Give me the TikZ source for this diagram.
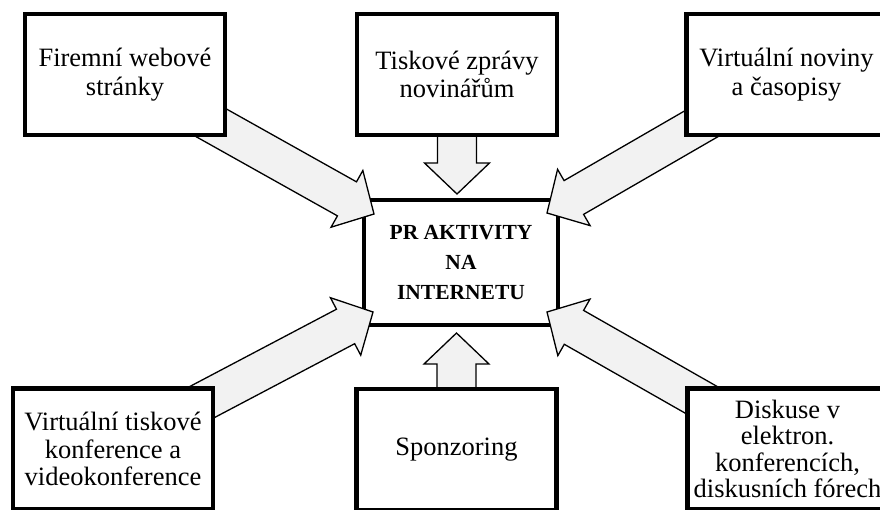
\documentclass[tikz,border=0pt]{standalone}
\usepackage{fontspec}
\setmainfont{Liberation Serif}
\usetikzlibrary{calc}
\pgfdeclarelayer{bottomlayer}
\pgfdeclarelayer{midlayer}
\pgfsetlayers{bottomlayer,midlayer,main}
\definecolor{arrowfill}{HTML}{F2F2F2}
\tikzset{
  outerbox/.style={draw, line width=4.5pt, fill=white, minimum width=200pt,
    minimum height=121pt, inner sep=0pt, align=center},
  txtA/.style={font=\fontsize{26.5}{28.5}\selectfont},
  txtB/.style={font=\fontsize{26.5}{27.5}\selectfont},
  txtC/.style={font=\fontsize{26.5}{26.5}\selectfont},
  centerbox/.style={draw, line width=4.5pt, fill=white, minimum width=194pt,
    minimum height=125pt, inner sep=0pt, align=center,
    font=\bfseries\fontsize{21.5}{30}\selectfont},
  blockarrowstyle/.style={draw, line width=1.3pt, fill=arrowfill, line join=miter},
}
% #1 tail (node centre), #2 tip
\newcommand{\bigarrow}[2]{%
  \coordinate (ba-b) at ($(#2)!31pt!(#1)$);
  \draw[blockarrowstyle] (#2)
    -- ($(ba-b)!32.5pt!90:(#1)$)
    -- ($(ba-b)!19.5pt!90:(#1)$)
    -- ($(#1)!19.5pt!-90:(#2)$)
    -- ($(#1)!19.5pt!90:(#2)$)
    -- ($(ba-b)!19.5pt!-90:(#1)$)
    -- ($(ba-b)!32.5pt!-90:(#1)$)
    -- cycle;
}
\begin{document}
\begin{tikzpicture}[x=1pt,y=-1pt]
\useasboundingbox (0,0) rectangle (880,509);
% outer boxes
\node[outerbox,txtA] (tl) at (125,74.5) {Firemní webové\\stránky};
\node[outerbox,txtA] (tm) at (457,74.5) {Tiskové zprávy\\novinářům};
\node[outerbox,txtA] (tr) at (786.5,74.5) {Virtuální noviny\\a časopisy};
\node[outerbox,txtB] (bl) at (113,449) {Virtuální tiskové\\konference a\\videokonference};
\node[outerbox,txtA] (bm) at (456.5,449.5) {Sponzoring};
\node[outerbox,txtC] (br) at (787.5,449) {Diskuse v\\elektron.\\konferencích,\\diskusních fórech};
% centre box
\begin{pgfonlayer}{bottomlayer}
\node[centerbox] (c) at (461,262.5) {PR AKTIVITY\\NA\\INTERNETU};
\end{pgfonlayer}
% arrow tips
\coordinate (tipTL) at (374,214);
\coordinate (tipTM) at (457,194);
\coordinate (tipTR) at (547,213);
\coordinate (tipBL) at (373,312);
\coordinate (tipBM) at (456.5,333);
\coordinate (tipBR) at (547,312);
\begin{pgfonlayer}{midlayer}
\bigarrow{tl.center}{tipTL}
\bigarrow{tm.center}{tipTM}
\bigarrow{tr.center}{tipTR}
\bigarrow{bl.center}{tipBL}
\bigarrow{bm.center}{tipBM}
\bigarrow{br.center}{tipBR}
\end{pgfonlayer}
\end{tikzpicture}
\end{document}
